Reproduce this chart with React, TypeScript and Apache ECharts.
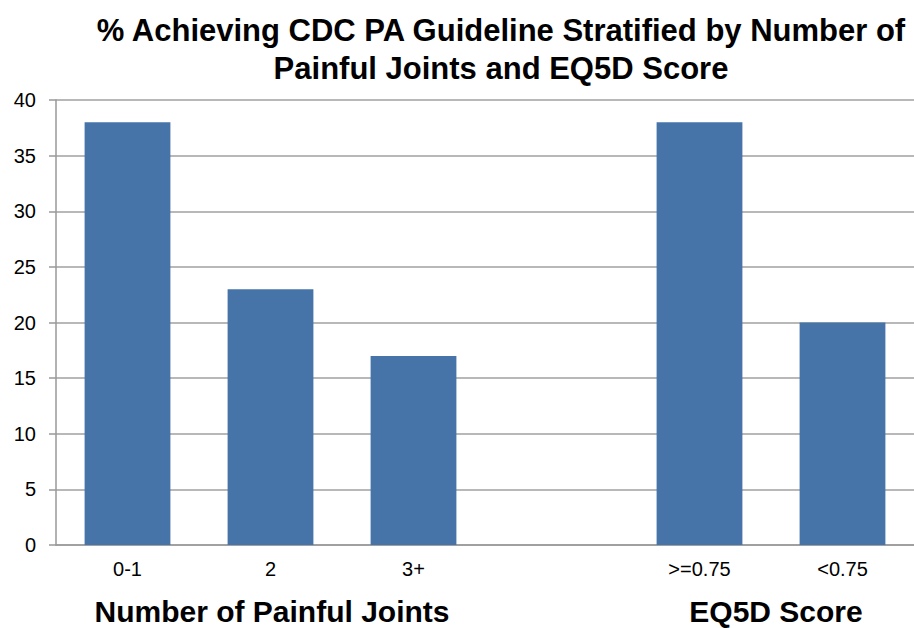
import React, { useEffect, useRef } from "react";
import * as echarts from "echarts";

const categories = ["0-1", "2", "3+", "", ">=0.75", "<0.75"];
const values: (number | null)[] = [38, 23, 17, null, 38, 20];
const groupLabels = ["Number of Painful Joints", "EQ5D Score"];
const titleLines = [
  "% Achieving CDC PA Guideline Stratified by Number of",
  "Painful Joints and EQ5D Score",
];

export default function App() {
  const ref = useRef<HTMLDivElement>(null);
  useEffect(() => {
    document.body.style.margin = "0";
    const chart = echarts.init(ref.current!, null, { renderer: "svg" });
    const font = "'Liberation Sans', Arial, Helvetica, sans-serif";
    chart.setOption({
      animation: false,
      textStyle: { fontFamily: font },
      title: {
        text: titleLines.join("\n"),
        left: 496,
        top: 6,
        textAlign: "center",
        textStyle: {
          fontFamily: font,
          fontSize: 31,
          fontWeight: "bold",
          color: "#000",
          lineHeight: 38,
        },
      },
      grid: { left: 56, right: 0, top: 100, bottom: 83, containLabel: false },
      xAxis: {
        type: "category",
        data: categories,
        axisLine: { lineStyle: { color: "#999", width: 1.5 } },
        axisTick: { show: false },
        axisLabel: { color: "#000", fontSize: 20, margin: 14, fontFamily: font },
      },
      yAxis: {
        type: "value",
        min: 0,
        max: 40,
        interval: 5,
        axisLine: { show: true, lineStyle: { color: "#999", width: 1.5 } },
        axisTick: { show: true, length: 7, lineStyle: { color: "#999", width: 1.5 } },
        axisLabel: { color: "#000", fontSize: 20, margin: 20, fontFamily: font },
        splitLine: { lineStyle: { color: "#a0a0a0", width: 1.5 } },
      },
      series: [
        {
          type: "bar",
          data: values,
          barWidth: "60%",
          itemStyle: { color: "#4674A9" },
        },
      ],
      graphic: [
        {
          type: "text",
          x: 272,
          y: 611,
          style: {
            text: groupLabels[0],
            fontFamily: font,
            fontSize: 30,
            fontWeight: "bold",
            fill: "#000",
            align: "center",
            verticalAlign: "middle",
          },
        },
        {
          type: "text",
          x: 776,
          y: 611,
          style: {
            text: groupLabels[1],
            fontFamily: font,
            fontSize: 30,
            fontWeight: "bold",
            fill: "#000",
            align: "center",
            verticalAlign: "middle",
          },
        },
      ],
    });
    return () => chart.dispose();
  }, []);
  return <div ref={ref} style={{ width: 914, height: 628 }} />;
}
